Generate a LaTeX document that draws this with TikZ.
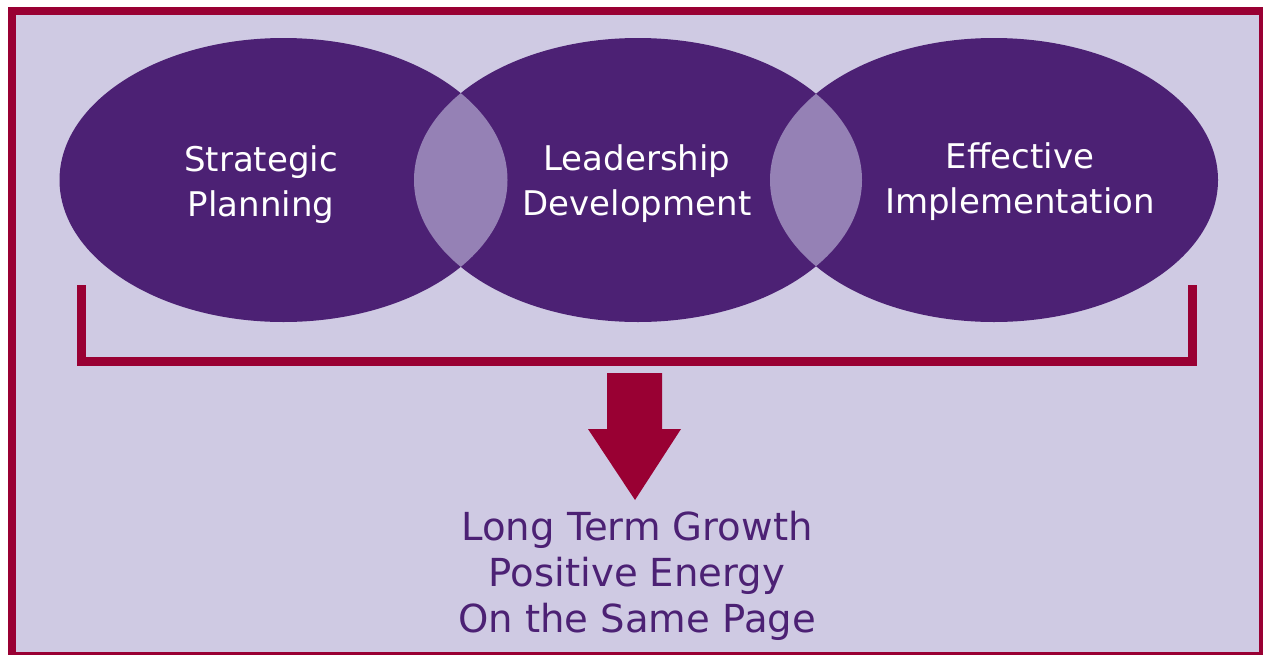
\documentclass[tikz,border=0pt]{standalone}
\usepackage{fontspec}
\setmainfont{DejaVu Sans}
\usetikzlibrary{shapes.geometric}
\definecolor{lavender}{HTML}{CFCAE3}
\definecolor{deeppurple}{HTML}{4C2174}
\definecolor{lenspurple}{HTML}{9581B5}
\definecolor{crimson}{HTML}{990033}
\begin{document}
\begin{tikzpicture}[x=1pt,y=-1pt]
  \tikzset{bubble/.style={ellipse, fill=deeppurple, inner sep=0pt, minimum width=448pt, minimum height=284pt},
    bubbletext/.style={text=white, align=center, font=\fontsize{34}{45}\selectfont},
    result/.style={text=deeppurple, align=center, font=\fontsize{38.6}{46}\selectfont}}
  \useasboundingbox (0,0) rectangle (1263,654);
  \fill[white] (0,0) rectangle (1263,654);
  \draw[crimson, line width=8pt, fill=lavender] (11.5,11) rectangle (1263,656);

  \node[bubble] at (283.5,180) (sp) {};
  \node[bubble] at (638,180) (ld) {};
  \node[bubble] at (994,180) (ei) {};

  % overlaps
  \begin{scope}
    \clip (sp.center) ellipse [x radius=224, y radius=142];
    \fill[lenspurple] (ld.center) ellipse [x radius=224, y radius=142];
  \end{scope}
  \begin{scope}
    \clip (ld.center) ellipse [x radius=224, y radius=142];
    \fill[lenspurple] (ei.center) ellipse [x radius=224, y radius=142];
  \end{scope}

  \node[bubbletext] at (261,185) (spt) {Strategic\\Planning};
  \node[bubbletext] at (637,184) (ldt) {Leadership\\Development};
  \node[bubbletext] at (1020,182) (eit) {Effective\\Implementation};

  \coordinate (bl) at (81.5,285);
  \coordinate (br) at (1192,285);
  \draw[crimson, line width=9pt] (bl) -- (81.5,361.5) -- (1192,361.5) -- (br);

  \fill[crimson] (607,373) -- (662,373) -- (662,429) -- (681,429) -- (635,500)
    -- (588,429) -- (607,429) -- cycle;

  \node[result] at (637,576) (res) {Long Term Growth\\Positive Energy\\On the Same Page};
\end{tikzpicture}
\end{document}
